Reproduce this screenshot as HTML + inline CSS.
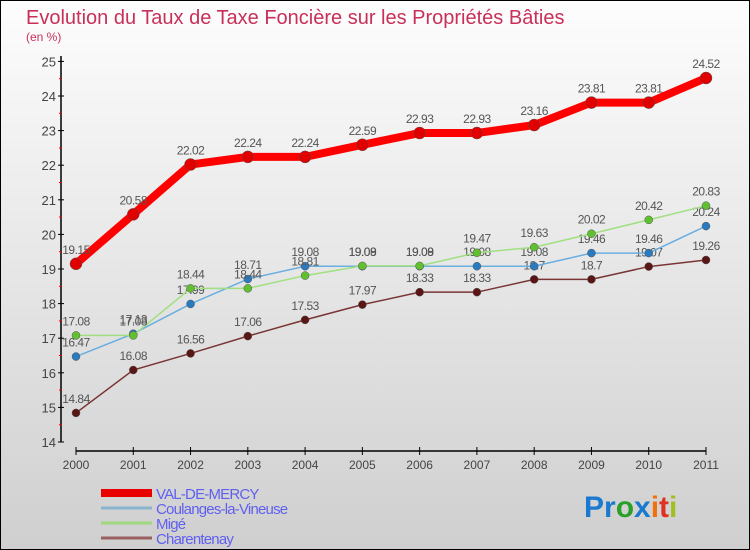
<!DOCTYPE html>
<html><head><meta charset="utf-8"><style>
body{margin:0}
#c{width:750px;height:550px;position:relative;box-sizing:border-box;border:1px solid #000;background:linear-gradient(#fdfdfd,#cfcfcf);font-family:"Liberation Sans",sans-serif;overflow:hidden}
</style></head><body>
<div id="c">
<svg id="s" width="748" height="548" xmlns="http://www.w3.org/2000/svg" style="position:absolute;left:0;top:0">
<text x="25" y="23" font-size="20" fill="#c8305a">Evolution du Taux de Taxe Foncière sur les Propriétés Bâties</text>
<text x="25" y="40" font-size="12" fill="#c8305a">(en %)</text>
<g id="axes"></g><g id="series"></g><g id="legend"></g>
<g font-size="30" font-weight="bold">
<text x="583" y="516"><tspan fill="#1a7ad0">Pr</tspan><tspan fill="#2aa02a">o</tspan><tspan fill="#1a7ad0">x</tspan><tspan fill="#f07010">i</tspan><tspan fill="#e03020">t</tspan><tspan fill="#a0c020">i</tspan></text>
</g>
</svg>
</div>
<script>
const years=[2000,2001,2002,2003,2004,2005,2006,2007,2008,2009,2010,2011];
const yTicks=[14,15,16,17,18,19,20,21,22,23,24,25];
const valDeMercy=[19.15,20.58,22.02,22.24,22.24,22.59,22.93,22.93,23.16,23.81,23.81,24.52];
const coulanges=[16.47,17.13,17.99,18.71,19.08,19.08,19.08,19.08,19.08,19.46,19.46,20.24];
const mige=[17.08,17.08,18.44,18.44,18.81,19.09,19.09,19.47,19.63,20.02,20.42,20.83];
const charentenay=[14.84,16.08,16.56,17.06,17.53,17.97,18.33,18.33,18.7,18.7,19.07,19.26];
const seriesNames=["VAL-DE-MERCY","Coulanges-la-Vineuse","Migé","Charentenay"];
const NS="http://www.w3.org/2000/svg";
const X=i=>75+i*(630/11);
const Y=v=>441-(v-14)*34.6;
function mk(t,a,p){const e=document.createElementNS(NS,t);for(const k in a)e.setAttribute(k,a[k]);p.appendChild(e);return e;}
const ax=document.getElementById('axes');
let l=mk('line',{x1:60,y1:55,x2:60,y2:441,stroke:'#000','stroke-width':1.5},ax);


l=mk('line',{x1:75,y1:450,x2:705,y2:450,stroke:'#000','stroke-width':1.5},ax);


yTicks.forEach(v=>{
 mk('line',{x1:57,x2:63,y1:Y(v),y2:Y(v),stroke:'#000'},ax);
 if(v<25)mk('line',{x1:58,x2:61,y1:Y(v+0.5),y2:Y(v+0.5),stroke:'#e00'},ax);
 const t=mk('text',{x:55,y:Y(v)+5,'text-anchor':'end','font-size':13,fill:'#444'},ax);t.textContent=v;
 
 
});
years.forEach((y,i)=>{
 mk('line',{x1:X(i),x2:X(i),y1:446,y2:454,stroke:'#000'},ax);
 const t=mk('text',{x:X(i),y:468,'text-anchor':'middle','font-size':12,fill:'#444'},ax);t.textContent=y;
 
 
});
const sg=document.getElementById('series');
const defs=[[valDeMercy,'#ff0000','#e00000',8,6,'val-de-mercy'],[charentenay,'#7a3535','#5a1515',1.5,4,'charentenay'],[coulanges,'#6aaee0','#2a7ac0',1.5,4,'coulanges-la-vineuse'],[mige,'#a0e080','#60c030',1.5,4,'mige']];
defs.forEach(([d,lc,pc,w,r,n])=>{
 const g=mk('g',{},sg);
 
 
 mk('polyline',{points:d.map((v,i)=>X(i)+','+Y(v)).join(' '),fill:'none',stroke:lc,'stroke-width':w},g);
 d.forEach((v,i)=>{
  const c=mk('circle',{cx:X(i),cy:Y(v),r:r,fill:pc,stroke:'#555','stroke-width':0.5},g);
  
  
  const t=mk('text',{x:X(i),y:Y(v)-10,'text-anchor':'middle','font-size':12,fill:'#555','letter-spacing':'-0.5'},g);
  t.textContent=v;
  
  
 });
});
const lg=document.getElementById('legend');
const lcols=[['#e80000',8],['#8ab4d0',3],['#a0d880',3],['#9a6060',3]];
seriesNames.forEach((n,i)=>{
 const y=492+i*15;
 const g=mk('g',{},lg);
 
 
 mk('line',{x1:100,x2:151,y1:y,y2:y,stroke:lcols[i][0],'stroke-width':lcols[i][1]},g);
 const t=mk('text',{x:155,y:y+6,'font-size':15,fill:'#6060f0','letter-spacing':'-0.8'},g);t.textContent=n;
});
</script>
</body></html>
